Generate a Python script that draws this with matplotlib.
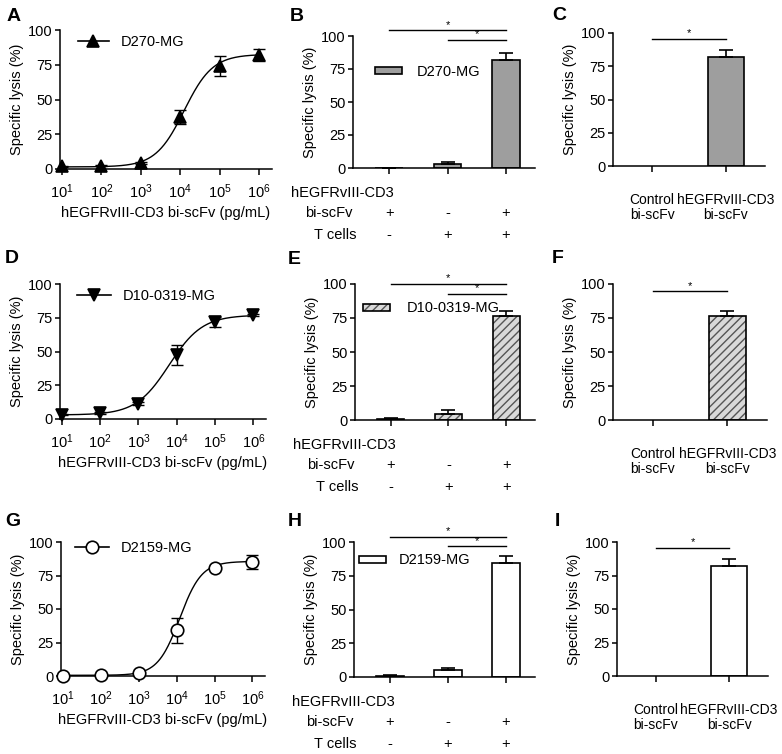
import numpy as np
import matplotlib
matplotlib.use('Agg')
import matplotlib.pyplot as plt

plt.rcParams['font.family'] = ['Liberation Sans', 'DejaVu Sans']
plt.rcParams['mathtext.default'] = 'regular'
plt.rcParams['hatch.linewidth'] = 1.0

W, H = 782, 754
FS = 10.5

# dose-response data (mean, sem) at each concentration
conc = np.array([1e1, 1e2, 1e3, 1e4, 1e5, 1e6])
conc_labels = ['$10^{1}$', '$10^{2}$', '$10^{3}$', '$10^{4}$', '$10^{5}$', '$10^{6}$']
d270_mean = [2.0, 2.4, 4.3, 37.5, 74.0, 82.0]
d270_err = [0.5, 0.5, 1.0, 5.0, 7.0, 4.5]
d10_mean = [3.2, 4.4, 11.4, 47.5, 72.0, 77.0]
d10_err = [0.5, 0.5, 1.0, 7.5, 3.5, 1.0]
d2159_mean = [0.0, 1.0, 2.2, 34.0, 80.8, 85.0]
d2159_err = [0.5, 0.5, 0.5, 9.5, 1.0, 5.5]

# 4-parameter logistic fits: bottom, top, log10 EC50, hill slope
d270_fit = (1.5, 82.5, 4.1, 1.2)
d10_fit = (3.0, 77.0, 3.8, 1.0)
d2159_fit = (0.5, 85.5, 4.08, 1.5)

# bar data: conditions (bi-scFv, T cells)
cond_scfv = ['+', '-', '+']
cond_tcells = ['-', '+', '+']
d270_bar = [0.3, 2.8, 82.0]
d270_bar_err = [0.0, 1.5, 5.0]
d10_bar = [0.5, 4.5, 76.3]
d10_bar_err = [1.0, 2.8, 4.0]
d2159_bar = [0.6, 5.5, 84.5]
d2159_bar_err = [1.0, 1.5, 5.5]

ctrl_labels = ['Control\nbi-scFv', 'hEGFRvIII-CD3\nbi-scFv']
d270_ctrl = [0.0, 82.0]
d270_ctrl_err = [0.0, 5.0]
d10_ctrl = [0.0, 76.5]
d10_ctrl_err = [0.0, 3.5]
d2159_ctrl = [0.0, 82.2]
d2159_ctrl_err = [0.0, 4.8]


fig = plt.figure(figsize=(W / 100, H / 100), dpi=100)


def add_ax(l, t, r, b):
    return fig.add_axes([l / W, 1 - b / H, (r - l) / W, (b - t) / H])


def style(ax):
    for s in ['top', 'right']:
        ax.spines[s].set_visible(False)
    for s in ['left', 'bottom']:
        ax.spines[s].set_linewidth(1.1)
    ax.set_ylim(0, 100)
    ax.set_yticks([0, 25, 50, 75, 100])
    ax.tick_params(axis='both', direction='out', width=1.1, labelsize=FS)
    ax.tick_params(axis='y', length=3.6, pad=1.5)
    ax.set_ylabel('Specific lysis (%)', fontsize=FS, labelpad=3)


def logistic(x, p):
    bottom, top, logec, hill = p
    return bottom + (top - bottom) / (1 + 10 ** ((logec - np.log10(x)) * hill))


def curve_panel(ax, mean, err, fit, marker, mfc, name, leg_anchor, hlen):
    style(ax)
    ax.set_xscale('log')
    ax.set_xlim(10 ** 0.95, 10 ** 6.33)
    ax.set_xticks(conc)
    ax.set_xticklabels(conc_labels)
    ax.xaxis.set_minor_locator(matplotlib.ticker.NullLocator())
    ax.tick_params(axis='x', length=4.3, pad=5)
    xs = np.logspace(1, 6, 300)
    ax.plot(xs, logistic(xs, fit), color='black', lw=1.0, zorder=2)
    ax.errorbar(conc, mean, yerr=err, fmt='none', ecolor='black',
                elinewidth=1.0, capsize=4.5, capthick=1.0, zorder=3)
    ax.plot(conc, mean, ls='none', marker=marker, ms=9, mfc=mfc,
            mec='black', mew=1.2, clip_on=False, zorder=4)
    h, = ax.plot([], [], color='black', lw=1.2, marker=marker, ms=9,
                 mfc=mfc, mec='black', mew=1.2)
    ax.legend([h], [name], loc='center left', bbox_to_anchor=leg_anchor,
              frameon=False, fontsize=FS, handlelength=hlen,
              handletextpad=0.85, borderpad=0, borderaxespad=0)
    ax.set_xlabel('hEGFRvIII-CD3 bi-scFv (pg/mL)', fontsize=FS, labelpad=4)


def sig(ax, x0, x1, y):
    ax.plot([x0, x1], [y, y], color='black', lw=1.0, clip_on=False)
    ax.text((x0 + x1) / 2, y + 0.5, '*', ha='center', va='bottom',
            fontsize=8)


def draw_bars(ax, x, vals, errs, face, hatch, width):
    if hatch:
        ax.bar(x, vals, width=width, color=face, edgecolor='#555555',
               hatch=hatch, lw=0, zorder=2)
        ax.bar(x, vals, width=width, facecolor='none', edgecolor='black',
               lw=1.2, zorder=3)
    else:
        ax.bar(x, vals, width=width, color=face, edgecolor='black',
               lw=1.2, zorder=2)
    ax.errorbar(x, vals, yerr=[np.zeros(len(errs)), errs], fmt='none',
                ecolor='black', elinewidth=1.2, capsize=5, capthick=1.2,
                zorder=4)


def bar_panel(ax, vals, errs, face, hatch, name, leg_anchor, tpad, sigs):
    style(ax)
    x = np.arange(3)
    draw_bars(ax, x, vals, errs, face, hatch, 0.47)
    ax.set_xlim(-0.62, 2.5)
    ax.set_xticks(x)
    ax.set_xticklabels([])
    ax.tick_params(axis='x', length=4.3)
    if hatch:
        hp = plt.Rectangle((0, 0), 1, 1, facecolor=face, edgecolor='#555555',
                           hatch=hatch, lw=0)
        ho = plt.Rectangle((0, 0), 1, 1, facecolor='none', edgecolor='black',
                           lw=1.2)
        handle = (hp, ho)
    else:
        handle = plt.Rectangle((0, 0), 1, 1, facecolor=face,
                               edgecolor='black', lw=1.2)
    ax.legend([handle], [name], loc='center left', bbox_to_anchor=leg_anchor,
              frameon=False, fontsize=FS, handlelength=1.85,
              handleheight=0.38, handletextpad=tpad, borderpad=0,
              borderaxespad=0)
    for x0, x1, y in sigs:
        sig(ax, x0, x1, y)
    ax.annotate('hEGFRvIII-CD3', xy=(0, 0), xycoords='axes fraction',
                xytext=(-62 * 0.72, -25 * 0.72), textcoords='offset points',
                ha='left', va='center', fontsize=FS)
    ax.annotate('bi-scFv', xy=(0, 0), xycoords='axes fraction',
                xytext=(0, -45 * 0.72), textcoords='offset points',
                ha='right', va='center', fontsize=FS)
    ax.annotate('T cells', xy=(0, 0), xycoords='axes fraction',
                xytext=(3 * 0.72, -67 * 0.72), textcoords='offset points',
                ha='right', va='center', fontsize=FS)
    for xi, a, b in zip(x, cond_scfv, cond_tcells):
        ax.annotate(a, xy=(xi, 0), xycoords=('data', 'axes fraction'),
                    xytext=(0, -45 * 0.72), textcoords='offset points',
                    ha='center', va='center', fontsize=FS)
        ax.annotate(b, xy=(xi, 0), xycoords=('data', 'axes fraction'),
                    xytext=(0, -67 * 0.72), textcoords='offset points',
                    ha='center', va='center', fontsize=FS)


def ctrl_panel(ax, vals, errs, face, hatch, sig_y):
    style(ax)
    x = np.arange(2)
    draw_bars(ax, x[1:], vals[1:], errs[1:], face, hatch, 0.49)
    ax.set_xlim(-0.53, 1.53)
    ax.set_xticks(x)
    ax.set_xticklabels(ctrl_labels, fontsize=10, linespacing=1.15)
    ax.tick_params(axis='x', length=4.3, pad=15)
    sig(ax, 0, 1, sig_y)


# row 1
axA = add_ax(60, 30, 272, 169)
curve_panel(axA, d270_mean, d270_err, d270_fit, '^', 'black', 'D270-MG',
            (0.085, 0.914), 2.1)
axB = add_ax(353, 36, 535, 168)
bar_panel(axB, d270_bar, d270_bar_err, '#9e9e9e', None, 'D270-MG',
          (0.12, 0.73), 1.05, [(0, 2, 104.3), (1, 2, 97.2)])
axC = add_ax(613, 33, 765, 166)
ctrl_panel(axC, d270_ctrl, d270_ctrl_err, '#9e9e9e', None, 95.5)

# row 2
axD = add_ax(60, 284, 266, 419)
curve_panel(axD, d10_mean, d10_err, d10_fit, 'v', 'black', 'D10-0319-MG',
            (0.083, 0.911), 2.3)
axE = add_ax(355, 284, 535, 420)
bar_panel(axE, d10_bar, d10_bar_err, '#d9d9d9', '////', 'D10-0319-MG',
          (0.045, 0.82), 1.15, [(0, 2, 100.0), (1, 2, 92.6)])
axF = add_ax(613, 284, 767, 420)
ctrl_panel(axF, d10_ctrl, d10_ctrl_err, '#d9d9d9', '////', 94.6)

# row 3
axG = add_ax(61, 542, 265, 676)
curve_panel(axG, d2159_mean, d2159_err, d2159_fit, 'o', 'white', 'D2159-MG',
            (0.069, 0.955), 2.3)
axH = add_ax(354, 542, 535, 677)
bar_panel(axH, d2159_bar, d2159_bar_err, 'white', None, 'D2159-MG',
          (0.028, 0.863), 0.9, [(0, 2, 103.7), (1, 2, 96.8)])
axI = add_ax(617, 542, 768, 676)
ctrl_panel(axI, d2159_ctrl, d2159_ctrl_err, 'white', None, 95.5)

# panel letters
letters = [('A', 7, 8), ('B', 290, 8), ('C', 552, 7),
           ('D', 5, 250), ('E', 288, 251), ('F', 552, 250),
           ('G', 5, 513), ('H', 288, 513), ('I', 555, 513)]
for s, lx, ly in letters:
    fig.text(lx / W, 1 - ly / H, s, ha='left', va='top', fontsize=14,
             fontweight='bold')

fig.savefig('out.png', dpi=100)
